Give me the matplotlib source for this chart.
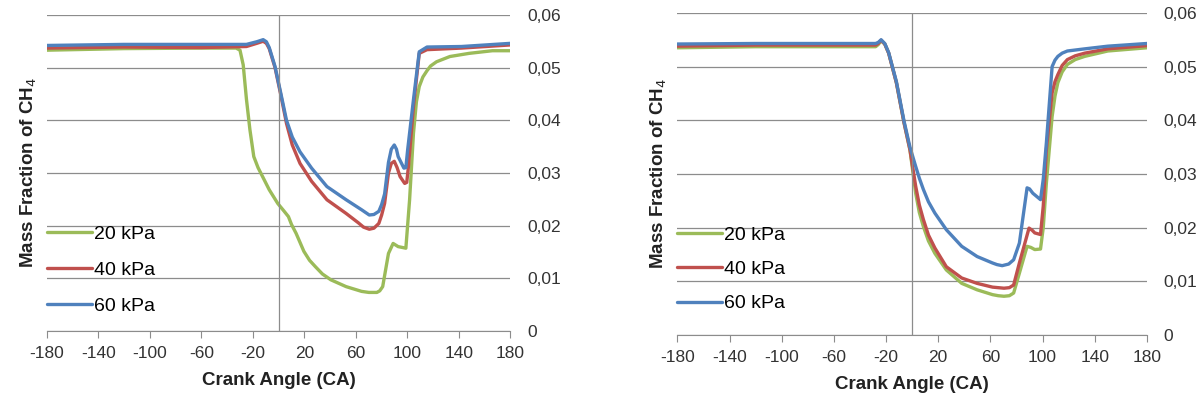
import matplotlib
matplotlib.use("Agg")
import matplotlib.pyplot as plt
from matplotlib.ticker import FuncFormatter

plt.rcParams['font.family'] = ['Liberation Sans', 'DejaVu Sans']
plt.rcParams['axes.unicode_minus'] = False

# левый график
left_ca_20 = [-180, -120, -60, -33, -30, -27.5, -25, -22.3, -19.3, -16, -13.3, -7.3, -0.7, 4, 7.6, 10, 13.6, 19.6,
              24, 28.5, 34, 40.5, 52.4, 64.4, 70, 76.3, 78.5, 80.8, 85.3, 88.9, 92.8, 98.8, 101.7, 104.7, 107,
              109.2, 112, 115.2, 118, 122.6, 133, 148, 166, 180]
left_v_20 = [0.0533, 0.0536, 0.0537, 0.0537, 0.0533, 0.0505, 0.0440, 0.0382, 0.0331, 0.0310, 0.0297, 0.0268, 0.0242,
             0.0228, 0.0217, 0.0202, 0.0185, 0.0151, 0.0134, 0.0122, 0.0108, 0.0097, 0.0084, 0.0075, 0.0073, 0.0073,
             0.0076, 0.0084, 0.0147, 0.0166, 0.0160, 0.0157, 0.0249, 0.0375, 0.0435, 0.0464, 0.0482, 0.0494, 0.0503,
             0.0511, 0.0521, 0.0527, 0.0532, 0.0532]
left_ca_40 = [-180, -120, -60, -25, -17, -12, -9.5, -7.3, -2.8, 1.7, 6.1, 10.6, 16.6, 25.6, 37.5, 52.4, 62, 65.9,
              70.4, 74, 77.8, 80, 82.3, 85.3, 87.5, 89.8, 92, 94.3, 97.9, 99.5, 100.8, 104.7, 109.2, 115.2, 142, 180]
left_v_40 = [0.0537, 0.0539, 0.0538, 0.0540, 0.0546, 0.0550, 0.0546, 0.0536, 0.0500, 0.0448, 0.0394, 0.0353, 0.0318,
             0.0284, 0.0249, 0.0223, 0.0205, 0.0197, 0.0193, 0.0195, 0.0204, 0.0220, 0.0242, 0.0300, 0.0318, 0.0322,
             0.0310, 0.0293, 0.0280, 0.0282, 0.0312, 0.0426, 0.0527, 0.0534, 0.0537, 0.0543]
left_ca_60 = [-180, -120, -60, -25, -17, -12, -9.5, -7.3, -2.8, 1.7, 6.1, 10.6, 16.6, 25.6, 37.5, 52.4, 64.4, 70.4,
              74, 77.8, 80, 82.3, 85.3, 87.5, 89.8, 91.5, 92.8, 97.3, 98.8, 100.2, 104.7, 109.2, 115.2, 142, 180]
left_v_60 = [0.0542, 0.0544, 0.0544, 0.0544, 0.0549, 0.0553, 0.0549, 0.0538, 0.0502, 0.0451, 0.0400, 0.0368, 0.0340,
             0.0309, 0.0274, 0.0249, 0.0230, 0.0220, 0.0221, 0.0227, 0.0240, 0.0260, 0.0320, 0.0345, 0.0353, 0.0345,
             0.0331, 0.0309, 0.0310, 0.0344, 0.0439, 0.0530, 0.0539, 0.0540, 0.0546]

# правый график
right_ca_20 = [-180, -120, -60, -28, -26, -23.8, -21, -18, -12.1, -6.2, -1.7, 2.7, 5.5, 8.6, 12.5, 17.4, 26.2, 38,
               49.8, 61.6, 66, 70.4, 74.5, 77.8, 82.2, 88.1, 91, 94, 98.4, 100.5, 102.9, 107.3, 109.5, 111.7, 115,
               119, 125, 132.3, 150, 180]
right_v_20 = [0.0535, 0.0537, 0.0537, 0.0537, 0.0541, 0.0548, 0.0542, 0.0525, 0.0470, 0.0395, 0.0345, 0.0264, 0.0228,
              0.0202, 0.0175, 0.0152, 0.0121, 0.0096, 0.0084, 0.0075, 0.0073, 0.0072, 0.0073, 0.0078, 0.0115, 0.0165,
              0.0163, 0.0159, 0.0160, 0.0200, 0.0283, 0.0407, 0.0445, 0.0470, 0.0490, 0.0504, 0.0513, 0.0519, 0.0529,
              0.0535]
right_ca_40 = [-180, -120, -60, -28, -26, -23.8, -21, -18, -12.1, -6.2, -1.7, 2.7, 5.5, 8.6, 12.5, 17.4, 26.2, 38,
               49.8, 61.6, 66, 70.4, 74.5, 77.8, 82.2, 89.6, 92, 94, 98.4, 100.5, 102.9, 107.3, 109.5, 111.7, 115,
               119, 125, 132.3, 150, 180]
right_v_40 = [0.0538, 0.0540, 0.0540, 0.0540, 0.0543, 0.0549, 0.0542, 0.0525, 0.0470, 0.0395, 0.0345, 0.0277, 0.0242,
              0.0215, 0.0186, 0.0162, 0.0127, 0.0106, 0.0096, 0.0089, 0.0088, 0.0087, 0.0088, 0.0093, 0.0134, 0.0199,
              0.0195, 0.0190, 0.0187, 0.0240, 0.0345, 0.0451, 0.0472, 0.0485, 0.0502, 0.0513, 0.0520, 0.0525, 0.0533,
              0.0539]
right_ca_60 = [-180, -120, -60, -28, -26, -23.8, -21, -18, -12.1, -6.2, -1.7, 2.7, 5.5, 8.6, 12.5, 17.4, 26.2, 38,
               49.8, 61.6, 65, 69, 74, 77.8, 82.2, 85, 88.1, 90, 92.5, 98.4, 100.5, 102.9, 107.3, 109.5, 111.7, 115,
               119, 132.3, 150, 180]
right_v_60 = [0.0542, 0.0543, 0.0543, 0.0543, 0.0545, 0.0550, 0.0543, 0.0526, 0.0472, 0.0398, 0.0350, 0.0314, 0.0292,
              0.0271, 0.0248, 0.0227, 0.0196, 0.0165, 0.0146, 0.0134, 0.0131, 0.0129, 0.0132, 0.0140, 0.0171, 0.0220,
              0.0274, 0.0272, 0.0264, 0.0252, 0.0290, 0.0358, 0.0500, 0.0512, 0.0519, 0.0525, 0.0529, 0.0533, 0.0538,
              0.0543]

labels = ["20 kPa", "40 kPa", "60 kPa"]
colors = ["#9BBB59", "#C0504D", "#4F81BD"]
x_ticks = [-180, -140, -100, -60, -20, 20, 60, 100, 140, 180]
y_ticks = [0, 0.01, 0.02, 0.03, 0.04, 0.05, 0.06]


def comma_fmt(v, pos):
    if abs(v) < 1e-9:
        return "0"
    return ("%.2f" % v).replace(".", ",")


def draw_panel(ax, data, leg_y, spacing):
    for (ca, v), lab, c in zip(data, labels, colors):
        ax.plot(ca, v, color=c, lw=2.4, label=lab, solid_capstyle='round', solid_joinstyle='round')
    ax.set_xlim(-180, 180)
    ax.set_ylim(0, 0.06)
    ax.set_xticks(x_ticks)
    ax.set_yticks(y_ticks)
    ax.yaxis.set_major_formatter(FuncFormatter(comma_fmt))
    ax.yaxis.tick_right()
    ax.grid(axis='y', color='#8c8c8c', lw=0.9)
    ax.axvline(0, color='#8c8c8c', lw=0.9)
    for s in ['top', 'left', 'right']:
        ax.spines[s].set_visible(False)
    ax.spines['bottom'].set_color('#8c8c8c')
    ax.tick_params(axis='x', colors='#8c8c8c', labelcolor='#333333', length=5, labelsize=12.5, pad=6)
    ax.tick_params(axis='y', length=0, labelcolor='#333333', labelsize=12.5, pad=12)
    ax.set_xlabel("Crank Angle (CA)", fontsize=13.5, fontweight='bold', color='#222222', labelpad=8)
    ax.set_ylabel("Mass Fraction of CH$_4$", fontsize=13.5, fontweight='bold', color='#222222', labelpad=6)
    ax.yaxis.set_label_position('left')
    ax.legend(loc='lower left', bbox_to_anchor=(0, leg_y), frameon=False, fontsize=14,
              handlelength=2.3, handletextpad=0.1, labelspacing=spacing, borderaxespad=0, borderpad=0)


fig = plt.figure(figsize=(12.01, 4.03), dpi=100)
ax1 = fig.add_axes([0.039, 0.179, 0.386, 0.784])
ax2 = fig.add_axes([0.564, 0.169, 0.391, 0.799])

draw_panel(ax1, [(left_ca_20, left_v_20), (left_ca_40, left_v_40), (left_ca_60, left_v_60)], 0.05, 0.95)
draw_panel(ax2, [(right_ca_20, right_v_20), (right_ca_40, right_v_40), (right_ca_60, right_v_60)], 0.07, 0.85)

fig.savefig("out.png", dpi=100)
